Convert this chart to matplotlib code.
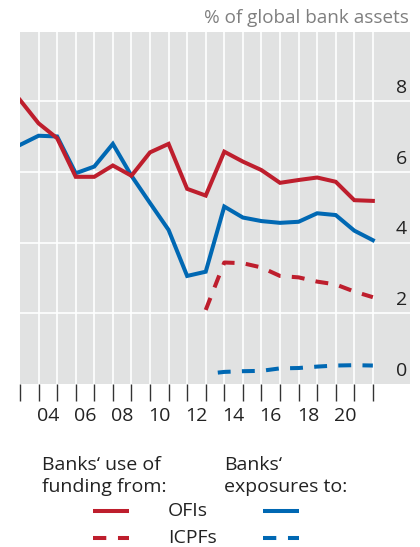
import matplotlib
matplotlib.use("Agg")
import matplotlib.pyplot as plt
from matplotlib.lines import Line2D

plt.rcParams['font.family'] = ['Open Sans', 'DejaVu Sans']

RED = '#BE1E2D'
BLUE = '#0068B3'
BG = '#E1E2E2'

# x positions are year boundaries (tick marks)
years = list(range(2003, 2023))
ofi_funding = [8.03, 7.37, 6.95, 5.86, 5.86, 6.18, 5.89, 6.55, 6.79, 5.52,
               5.33, 6.57, 6.29, 6.05, 5.69, 5.77, 5.84, 5.72, 5.20, 5.18]
ofi_exposure = [6.76, 7.02, 7.00, 5.96, 6.15, 6.79, 5.89, 5.12, 4.36, 3.06,
                3.18, 5.02, 4.71, 4.61, 4.56, 4.59, 4.83, 4.78, 4.34, 4.07]

icpf_years = list(range(2013, 2023))
icpf_funding = [2.10, 3.44, 3.42, 3.30, 3.06, 3.02, 2.90, 2.82, 2.62, 2.46]

icpf_exp_years = [2013.65, 2014, 2015, 2016, 2017, 2018, 2019, 2020, 2021, 2022]
icpf_exposure = [0.33, 0.35, 0.37, 0.38, 0.45, 0.46, 0.50, 0.53, 0.54, 0.53]

tick_labels = ['04', '06', '08', '10', '12', '14', '16', '18', '20']
label_years = [2004, 2006, 2008, 2010, 2012, 2014, 2016, 2018, 2020]
y_ticks = [0, 2, 4, 6, 8]

fig = plt.figure(figsize=(4.2, 5.47), dpi=100)
ax = fig.add_axes([20 / 420, 1 - 384.3 / 547, 390 / 420, (384.3 - 32) / 547])
ax.set_facecolor(BG)
ax.set_xlim(2003, 2024)
ax.set_ylim(0, 9.95)

for yr in range(2004, 2023):
    ax.axvline(yr, color='white', lw=1.2, zorder=1)
for v in y_ticks[1:]:
    ax.axhline(v, color='white', lw=1.2, zorder=1)

lw = 2.9
dash = (3.2, 2.8)
ax.plot(years, ofi_funding, color=RED, lw=lw, zorder=3, solid_joinstyle='miter')
ax.plot(years, ofi_exposure, color=BLUE, lw=lw, zorder=2, solid_joinstyle='miter')
ax.plot(icpf_years, icpf_funding, color=RED, lw=lw, dashes=dash,
        dash_capstyle='butt', zorder=3)
ax.plot(icpf_exp_years, icpf_exposure, color=BLUE, lw=lw, dashes=dash,
        dash_capstyle='butt', zorder=3)

for s in ax.spines.values():
    s.set_visible(False)
ax.set_yticks([])
ax.set_xticks(range(2003, 2023))
ax.set_xticklabels([])
ax.tick_params(axis='x', length=12, width=1, color='#333333', pad=0,
               direction='out')

for yr, lab in zip(label_years, tick_labels):
    ax.text(yr + 0.5, -0.64, lab, ha='center', va='top', fontsize=14,
            color='#222222', clip_on=False)

for v in y_ticks:
    ax.text(2023.85, v + 0.12, str(v), ha='right', va='bottom', fontsize=14,
            color='#222222')

fig.text(409 / 420, 1 - 18 / 547, '% of global bank assets', ha='right',
         va='center', fontsize=13.6, color='#7F7F7F')

# legend headings
heads = [(42, ['Banks\u2018 use of', 'funding from:']),
         (224, ['Banks\u2018', 'exposures to:'])]
for xpx, lines in heads:
    for ypx, txt in zip([470, 492], lines):
        fig.text(xpx / 420, 1 - ypx / 547, txt, ha='left', va='baseline',
                 fontsize=14, color='#222222')

rows = [(511, 'OFIs', None), (538, 'ICPFs', dash)]
for ypx, lab, d in rows:
    yf = 1 - ypx / 547
    for x0, col in [(93, RED), (263, BLUE)]:
        ln = Line2D([x0 / 420, (x0 + 36) / 420], [yf, yf], color=col, lw=lw,
                    transform=fig.transFigure, solid_capstyle='butt',
                    dash_capstyle='butt')
        if d:
            ln.set_dashes((3.3, 2.9))
        fig.add_artist(ln)
    fig.text(168 / 420, yf, lab, ha='left', va='center', fontsize=14,
             color='#222222')

fig.savefig('out.png', dpi=100)
